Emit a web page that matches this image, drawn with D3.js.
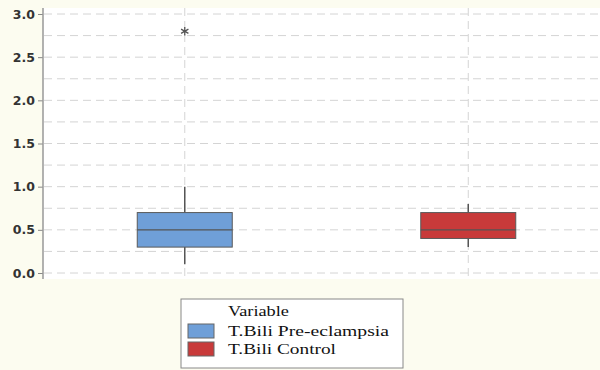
<!DOCTYPE html>
<html>
<head>
<meta charset="utf-8">
<script src="https://cdn.jsdelivr.net/npm/d3@7"></script>
<style>
  html, body { margin: 0; padding: 0; background: #fcfcf0; }
  svg { display: block; }
</style>
</head>
<body>
<svg id="chart" width="600" height="370"></svg>
<script>
const categories = ["T.Bili Pre-eclampsia", "T.Bili Control"];
const q1 = [0.3, 0.4];
const median = [0.5, 0.5];
const q3 = [0.7, 0.7];
const whiskerLow = [0.1, 0.3];
const whiskerHigh = [1.0, 0.8];
const outliers = [[2.8], []];
const colors = ["#6f9fd8", "#c83a3a"];
const yTicks = [0, 0.5, 1.0, 1.5, 2.0, 2.5, 3.0];
const gridValues = [0, 0.25, 0.5, 0.75, 1.0, 1.25, 1.5, 1.75, 2.0, 2.25, 2.5, 2.75, 3.0];
const legendTitle = "Variable";

const svg = d3.select("#chart");
const W = 600, H = 370;
const plot = { left: 43, right: 600, top: 8, bottom: 279 };

svg.append("rect").attr("x", 0).attr("y", 0).attr("width", W).attr("height", H).attr("fill", "#fcfcf0");
svg.append("rect").attr("x", plot.left).attr("y", plot.top)
  .attr("width", plot.right - plot.left).attr("height", plot.bottom - plot.top).attr("fill", "#ffffff");

const y = d3.scaleLinear().domain([0, 3]).range([273, 14]);
const x = d3.scalePoint().domain(categories).range([43, 610]).padding(0.5);
const boxW = 95;

// grid
const grid = svg.append("g");
grid.selectAll("line.h").data(gridValues).enter().append("line")
  .attr("x1", plot.left + 1).attr("x2", plot.right)
  .attr("y1", d => y(d)).attr("y2", d => y(d))
  .attr("stroke", "#d4d4d4").attr("stroke-width", 1).attr("stroke-dasharray", "8,5");
grid.selectAll("line.v").data(categories).enter().append("line")
  .attr("x1", d => x(d)).attr("x2", d => x(d))
  .attr("y1", plot.top).attr("y2", plot.bottom)
  .attr("stroke", "#d4d4d4").attr("stroke-width", 1).attr("stroke-dasharray", "8,5");

// axis
const axis = svg.append("g").attr("transform", `translate(${plot.left},0)`)
  .call(d3.axisLeft(y).tickValues(yTicks).tickFormat(d3.format(".1f")).tickSize(5).tickPadding(3));
axis.select(".domain").remove();
axis.selectAll(".tick line").attr("stroke", "#888");
axis.selectAll(".tick text").attr("fill", "#333").style("font-family", "DejaVu Sans")
  .style("font-size", "12.5px").style("font-weight", "bold");
svg.append("line").attr("x1", plot.left).attr("x2", plot.left)
  .attr("y1", plot.top).attr("y2", plot.bottom).attr("stroke", "#999").attr("stroke-width", 1.5);

// boxes
const boxes = svg.append("g");
categories.forEach((c, i) => {
  const cx = x(c);
  const g = boxes.append("g");
  g.append("line").attr("x1", cx).attr("x2", cx).attr("y1", y(whiskerHigh[i])).attr("y2", y(q3[i]))
    .attr("stroke", "#555").attr("stroke-width", 1.5);
  g.append("line").attr("x1", cx).attr("x2", cx).attr("y1", y(q1[i])).attr("y2", y(whiskerLow[i]))
    .attr("stroke", "#555").attr("stroke-width", 1.5);
  g.append("rect").attr("x", cx - boxW / 2).attr("width", boxW)
    .attr("y", y(q3[i])).attr("height", y(q1[i]) - y(q3[i]))
    .attr("fill", colors[i]).attr("stroke", "#5a5a5a").attr("stroke-width", 1);
  g.append("line").attr("x1", cx - boxW / 2).attr("x2", cx + boxW / 2)
    .attr("y1", y(median[i])).attr("y2", y(median[i]))
    .attr("stroke", "#555").attr("stroke-width", 1.2);
  outliers[i].forEach(v => {
    g.append("path").attr("d", d3.symbol().type(d3.symbolAsterisk).size(50)())
      .attr("transform", `translate(${cx},${y(v)})`)
      .attr("fill", "none").attr("stroke", "#555").attr("stroke-width", 1.3);
  });
});

// legend
const lg = svg.append("g");
lg.append("rect").attr("x", 181).attr("y", 299).attr("width", 222).attr("height", 69)
  .attr("fill", "#ffffff").attr("stroke", "#888").attr("stroke-width", 1);
lg.append("text").attr("x", 228).attr("y", 316).text(legendTitle)
  .attr("textLength", 61).attr("lengthAdjust", "spacingAndGlyphs")
  .style("font-family", "Liberation Serif").style("font-size", "15px").attr("fill", "#111");
const legendLens = [161, 108];
categories.forEach((c, i) => {
  const yy = 324 + i * 18;
  lg.append("rect").attr("x", 188).attr("y", yy).attr("width", 26).attr("height", 14)
    .attr("fill", colors[i]).attr("stroke", "#666").attr("stroke-width", 1);
  lg.append("text").attr("x", 228).attr("y", yy + 12).text(c)
    .attr("textLength", legendLens[i]).attr("lengthAdjust", "spacingAndGlyphs")
    .style("font-family", "Liberation Serif").style("font-size", "15px").attr("fill", "#111");
});
</script>
</body>
</html>
